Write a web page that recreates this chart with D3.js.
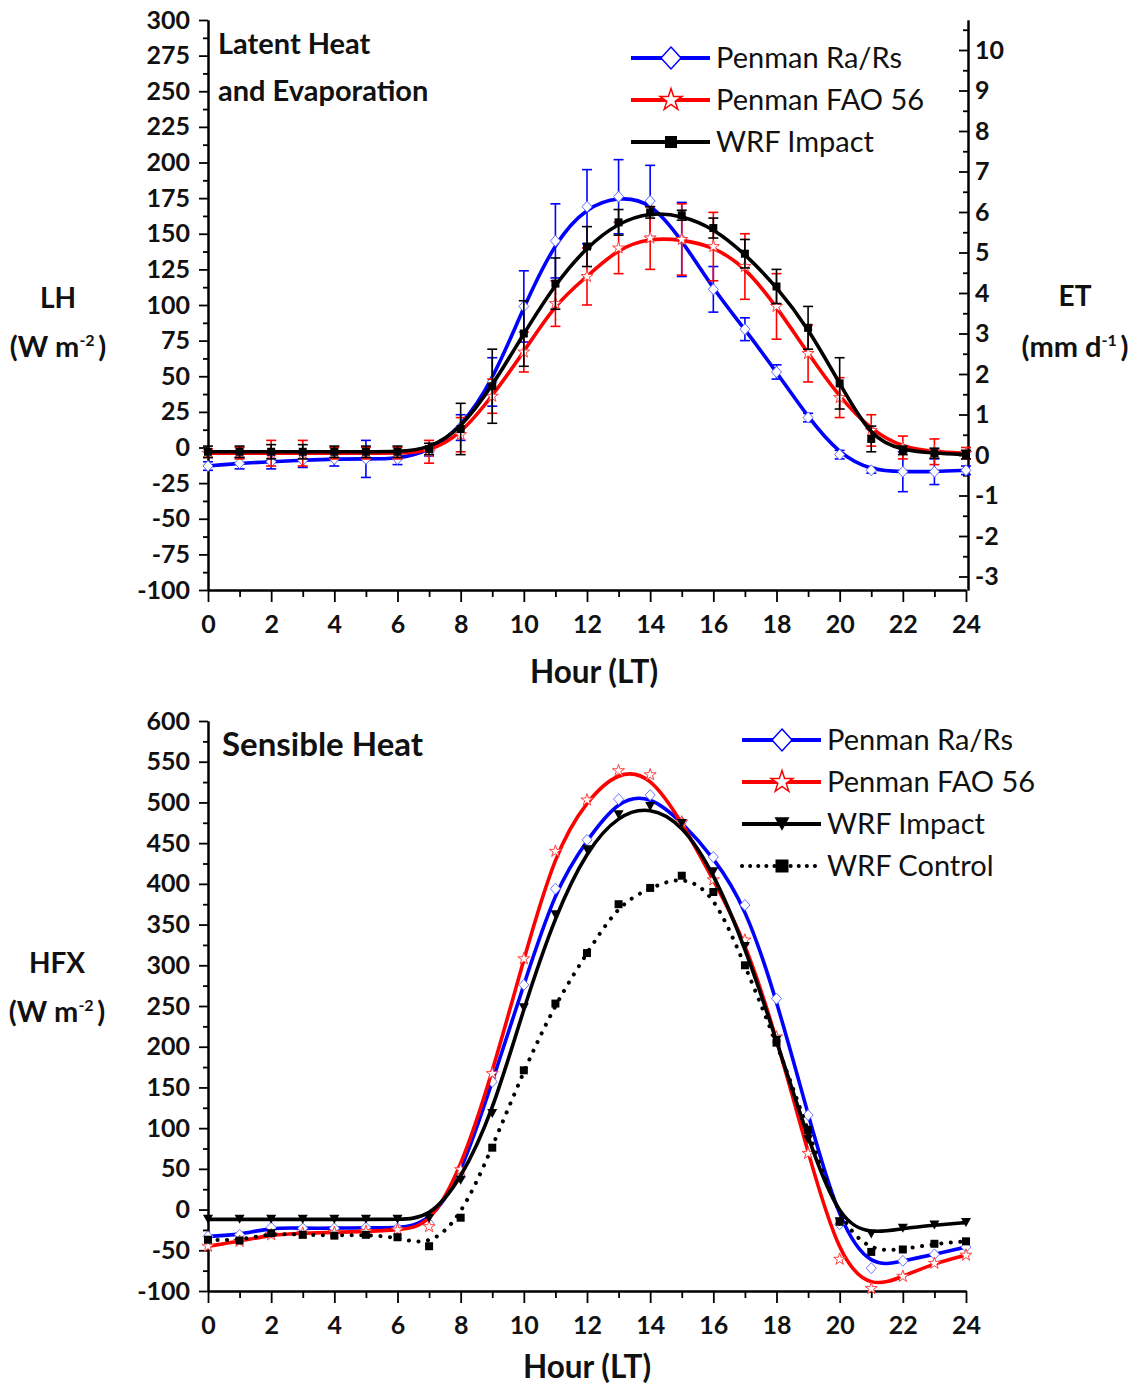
<!DOCTYPE html>
<html>
<head>
<meta charset="utf-8">
<script src="https://cdn.jsdelivr.net/npm/d3@7/dist/d3.min.js"></script>
<style>
  html, body { margin: 0; padding: 0; background: #fff; }
  svg { display: block; }
  text { font-family: Lato, "Open Sans", sans-serif; fill: #111; }
</style>
</head>
<body>
<svg id="chart" width="1136" height="1385"></svg>
<script>
// ---------------- DATA ----------------
const hours = [0,1,2,3,4,5,6,7,8,9,10,11,12,13,14,15,16,17,18,19,20,21,22,23,24];
const hourTicks = [0,2,4,6,8,10,12,14,16,18,20,22,24];
const lhTicks = [-100,-75,-50,-25,0,25,50,75,100,125,150,175,200,225,250,275,300];
const etTicks = [-3,-2,-1,0,1,2,3,4,5,6,7,8,9,10];
const hfxTicks = [-100,-50,0,50,100,150,200,250,300,350,400,450,500,550,600];

// Latent heat (W m-2) with error bars
const lhRaRs    = [-13,-11,-10,-9,-8,-8,-8,-3,14,46,99,145,169,176,173,146,111,83,53,21,-5,-16,-17,-17,-16];
const lhRaRsErr = [3,4,5,5,5,13,4,3,9,17,25,26,26,26,25,26,16,8,5,3,3,2,14,9,3];
const lhFAO     = [-4,-4,-4,-4,-4,-4,-4,-3,9,36,67,101,120,140,147,146,141,127,99,66,35,12,0,-3,-4];
const lhFAOErr  = [3,4,9,9,4,4,4,8,12,12,14,16,20,18,22,25,24,23,23,20,14,11,8,9,4];
const lhWRF     = [-3,-3,-3,-3,-3,-3,-3,-1,13,43,80,115,141,158,165,163,154,136,113,84,45,6,-2,-4,-5];
const lhWRFErr  = [4,4,5,5,4,4,4,4,18,26,23,18,14,9,4,3.5,7,10,12,15,18,9,3,3.5,3];

// Sensible heat (W m-2)
const hfxRaRs = [-33,-31,-22,-23,-23,-22,-23,-17,40,157,276,394,454,504,509,476,433,374,259,116,-18,-72,-63,-55,-46];
const hfxFAO  = [-45,-39,-31,-29,-28,-27,-25,-21,49,167,308,440,503,539,534,476,405,331,212,69,-61,-97,-82,-66,-56];
const hfxWRF  = [-12,-12,-12,-12,-12,-12,-12,-11,36,118,248,362,442,485,495,474,415,323,208,86,-15,-30,-23,-19,-16];
const hfxCtrl = [-37,-38,-29,-31,-32,-31,-34,-45,-10,76,171,253,315,375,395,410,390,300,205,98,-15,-52,-49,-42,-39];

const topSeries = ["Penman Ra/Rs","Penman FAO 56","WRF Impact"];
const botSeries = ["Penman Ra/Rs","Penman FAO 56","WRF Impact","WRF Control"];

// ---------------- DRAW ----------------
const svg = d3.select("#chart");
const BLUE = "#0000ff", RED = "#ff0000", BLACK = "#000000";

const x = d3.scaleLinear().domain([0,24]).range([208,966]);
const yLH = d3.scaleLinear().domain([-100,300]).range([590,20]);
const yET0 = d3.scaleLinear().domain([0,10]).range([455,50]);
const yET = d3.scaleLinear().domain([yET0.invert(590), yET0.invert(20)]).range([590,20]);
const yH = d3.scaleLinear().domain([-100,600]).range([1291,721]);

const fmt = d => String(d);
function mids(arr){ const r=[]; for(let i=0;i<arr.length-1;i++) r.push((arr[i]+arr[i+1])/2); return r; }

function styleAxis(g, fs){
  g.selectAll("path.domain").attr("stroke","#000").attr("stroke-width",2);
  g.selectAll(".tick line").attr("stroke","#000").attr("stroke-width",1.8);
  g.selectAll(".tick text").attr("font-size",fs).attr("font-weight","bold")
    .attr("font-family","Lato, sans-serif").attr("fill","#111");
}

function xAxes(yPix){
  const gMin = svg.append("g").attr("transform",`translate(0,${yPix})`)
    .call(d3.axisBottom(x).tickValues(mids(hourTicks)).tickSize(7).tickSizeOuter(0).tickFormat(""));
  styleAxis(gMin, 22);
  const g = svg.append("g").attr("transform",`translate(0,${yPix})`)
    .call(d3.axisBottom(x).tickValues(hourTicks).tickSize(12).tickSizeOuter(0).tickPadding(13).tickFormat(fmt));
  styleAxis(g, 25);
}

// ---- top axes
(function(){
  const gMin = svg.append("g").attr("transform","translate(208,0)")
    .call(d3.axisLeft(yLH).tickValues(mids(lhTicks)).tickSize(5).tickSizeOuter(0).tickFormat(""));
  styleAxis(gMin,22);
  const g = svg.append("g").attr("transform","translate(208,0)")
    .call(d3.axisLeft(yLH).tickValues(lhTicks).tickSize(9).tickSizeOuter(0).tickPadding(9).tickFormat(fmt));
  styleAxis(g,25);
  const etMinor = mids(etTicks).concat([etTicks[etTicks.length-1]+0.5]);
  const gr1 = svg.append("g").attr("transform","translate(968,0)")
    .call(d3.axisRight(yET).tickValues(etMinor).tickSize(-5).tickSizeOuter(0).tickFormat(""));
  styleAxis(gr1,22);
  const gr = svg.append("g").attr("transform","translate(968,0)")
    .call(d3.axisRight(yET).tickValues(etTicks).tickSize(-9).tickSizeOuter(0).tickPadding(7).tickFormat(fmt));
  styleAxis(gr,25);
  xAxes(590);
})();

// ---- bottom axes
(function(){
  const gMin = svg.append("g").attr("transform","translate(208,0)")
    .call(d3.axisLeft(yH).tickValues(mids(hfxTicks)).tickSize(5).tickSizeOuter(0).tickFormat(""));
  styleAxis(gMin,22);
  const g = svg.append("g").attr("transform","translate(208,0)")
    .call(d3.axisLeft(yH).tickValues(hfxTicks).tickSize(9).tickSizeOuter(0).tickPadding(9).tickFormat(fmt));
  styleAxis(g,25);
  xAxes(1291);
})();

// ---- marker helpers
function diamondPath(w,h){ return `M0,${-h/2}L${w/2},0L0,${h/2}L${-w/2},0Z`; }
const starPath = s => d3.symbol().type(d3.symbolStar).size(s)();
const squarePath = s => `M${-s/2},${-s/2}h${s}v${s}h${-s}Z`;
function triDownPath(w){ const h=w*0.9; return `M${-w/2},${-h/2}L${w/2},${-h/2}L0,${h/2}Z`; }

function drawMarkers(g, xs, ys, path, fill, stroke, sw){
  g.selectAll(null).data(xs.map((d,i)=>[d,ys[i]])).enter().append("path")
    .attr("d",path).attr("transform",d=>`translate(${d[0]},${d[1]})`)
    .attr("fill",fill).attr("stroke",stroke).attr("stroke-width",sw);
}

function drawSeries(yScale, vals, errs, color, markerPath, mFill, mStroke, mSw, dash){
  const g = svg.append("g");
  if (errs){
    const eg = g.append("g").attr("stroke",color).attr("stroke-width",1.6).attr("fill","none");
    hours.forEach((h,i)=>{
      const cx = x(h), y1 = yScale(vals[i]+errs[i]), y2 = yScale(vals[i]-errs[i]);
      eg.append("line").attr("x1",cx).attr("x2",cx).attr("y1",y1).attr("y2",y2);
      eg.append("line").attr("x1",cx-5).attr("x2",cx+5).attr("y1",y1).attr("y2",y1);
      eg.append("line").attr("x1",cx-5).attr("x2",cx+5).attr("y1",y2).attr("y2",y2);
    });
  }
  const line = d3.line().x((d,i)=>x(hours[i])).y(d=>yScale(d)).curve(d3.curveBasis);
  const p = g.append("path").datum(vals).attr("d",line).attr("fill","none")
    .attr("stroke",color).attr("stroke-linejoin","round");
  if (dash){ p.attr("stroke-width",4).attr("stroke-dasharray","0.1 9.5").attr("stroke-linecap","round"); }
  else { p.attr("stroke-width",3.6); }
  drawMarkers(g, hours.map(h=>x(h)), vals.map(v=>yScale(v)), markerPath, mFill, mStroke, mSw);
}

// ---- top series
drawSeries(yLH, lhRaRs, lhRaRsErr, BLUE, diamondPath(10,11), "#fff", "#5c6cff", 1);
drawSeries(yLH, lhFAO, lhFAOErr, RED, starPath(45), "#fff", "#ff4040", 1);
drawSeries(yLH, lhWRF, lhWRFErr, BLACK, squarePath(8), "#000", "#000", 0);

// ---- bottom series
drawSeries(yH, hfxRaRs, null, BLUE, diamondPath(10,11), "#fff", "#6a78ff", 1);
drawSeries(yH, hfxFAO, null, RED, starPath(45), "#fff", "#ff4040", 1);
drawSeries(yH, hfxWRF, null, BLACK, triDownPath(10), "#000", "#000", 0);
drawSeries(yH, hfxCtrl, null, BLACK, squarePath(8), "#000", "#000", 0, true);

// ---- legends
function legend(x0, y0, names, styles){
  const g = svg.append("g");
  names.forEach((n,i)=>{
    const yy = y0 + i*42, st = styles[i];
    const l = g.append("line").attr("x1",x0).attr("x2",x0+79).attr("y1",yy).attr("y2",yy)
      .attr("stroke",st.color);
    if (st.dash){ l.attr("stroke-width",4).attr("stroke-dasharray","0.1 8").attr("stroke-linecap","round"); }
    else l.attr("stroke-width",4);
    g.append("path").attr("d",st.path).attr("transform",`translate(${x0+40},${yy})`)
      .attr("fill",st.fill).attr("stroke",st.stroke).attr("stroke-width",st.sw);
    g.append("text").attr("x",x0+85).attr("y",yy+10).attr("font-size",29).text(n);
  });
}
legend(631, 58, topSeries, [
  {color:BLUE, path:diamondPath(20,22), fill:"#fff", stroke:BLUE, sw:1.5},
  {color:RED, path:starPath(150), fill:"#fff", stroke:RED, sw:1.5},
  {color:BLACK, path:squarePath(12), fill:"#000", stroke:"#000", sw:0}
]);
legend(742, 740, botSeries, [
  {color:BLUE, path:diamondPath(20,22), fill:"#fff", stroke:BLUE, sw:1.5},
  {color:RED, path:starPath(150), fill:"#fff", stroke:RED, sw:1.5},
  {color:BLACK, path:triDownPath(15), fill:"#000", stroke:"#000", sw:0},
  {color:BLACK, path:squarePath(13), fill:"#000", stroke:"#000", sw:0, dash:true}
]);

// ---- titles and axis labels
function txt(xp, yp, s, fs, anchor, weight){
  return svg.append("text").attr("x",xp).attr("y",yp).attr("font-size",fs)
    .attr("text-anchor",anchor||"start").attr("font-weight",weight||"bold").text(s);
}
txt(218, 54, "Latent Heat", 29);
txt(218, 101, "and Evaporation", 29);
txt(222, 756, "Sensible Heat", 33);
txt(594, 683, "Hour (LT)", 31.5, "middle");
txt(587, 1378, "Hour (LT)", 31.5, "middle");

function unitLabel(cx, yp, pre, sup, post){
  const t = svg.append("text").attr("x",cx).attr("y",yp).attr("font-size",29)
    .attr("text-anchor","middle").attr("font-weight","bold");
  t.append("tspan").text(pre);
  t.append("tspan").attr("dy",-11).attr("font-size",16).text(sup);
  t.append("tspan").attr("dy",11).text("\u2009" + post);
}
txt(58, 308, "LH", 28, "middle");
unitLabel(58, 357, "(W m", "-2", ")");
txt(1075, 306, "ET", 28, "middle");
unitLabel(1075, 357, "(mm d", "-1", ")");
txt(57, 973, "HFX", 28, "middle");
unitLabel(57, 1022, "(W m", "-2", ")");
</script>
</body>
</html>
